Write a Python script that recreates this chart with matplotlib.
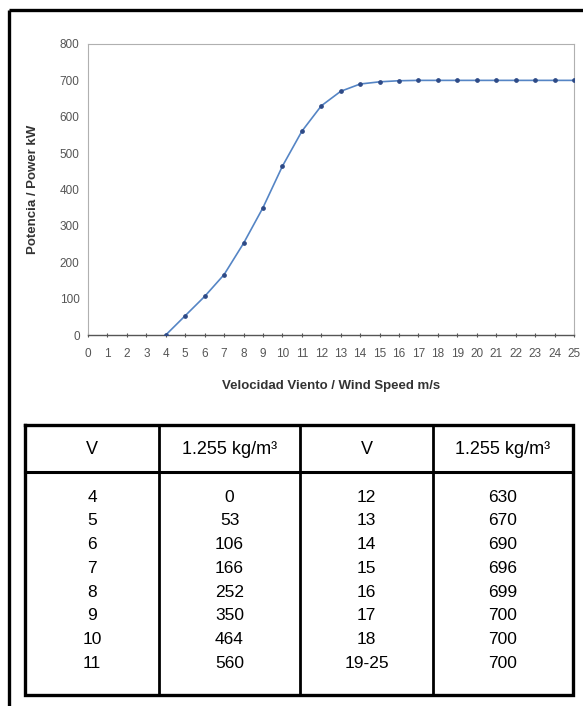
import matplotlib.pyplot as plt

plt.rcParams['font.family'] = ['Liberation Sans', 'DejaVu Sans']

# Power curve data
wind_speed = [4, 5, 6, 7, 8, 9, 10, 11, 12, 13, 14, 15, 16, 17, 18, 19, 20, 21, 22, 23, 24, 25]
power_kw = [0, 53, 106, 166, 252, 350, 464, 560, 630, 670, 690, 696, 699, 700, 700,
            700, 700, 700, 700, 700, 700, 700]

# Table contents
header = ['V', '1.255 kg/m³', 'V', '1.255 kg/m³']
col_v1 = ['4', '5', '6', '7', '8', '9', '10', '11']
col_p1 = ['0', '53', '106', '166', '252', '350', '464', '560']
col_v2 = ['12', '13', '14', '15', '16', '17', '18', '19-25']
col_p2 = ['630', '670', '690', '696', '699', '700', '700', '700']

W, H = 583, 706
fig = plt.figure(figsize=(W / 100, H / 100), dpi=100)
fig.patch.set_facecolor('white')

# chart area (pixel coords converted to figure fractions)
left, right, top, bottom = 88, 574, 44, 335
ax = fig.add_axes([left / W, 1 - bottom / H, (right - left) / W, (bottom - top) / H])
ax.plot(wind_speed, power_kw, color='#5585c5', lw=1.2, marker='o', ms=2.4,
        mfc='#2e4a86', mec='#2e4a86', zorder=3)
ax.set_xlim(0, 25)
ax.set_ylim(0, 800)
ax.set_xticks(range(0, 26))
ax.set_yticks(range(0, 801, 100))
ax.tick_params(axis='both', labelsize=8.5, colors='#555555', length=3, width=0.8)
ax.tick_params(axis='y', length=0, pad=6)
ax.tick_params(axis='x', direction='inout', pad=8)
for s in ['top', 'right', 'left']:
    ax.spines[s].set_color('#b0b0b0')
    ax.spines[s].set_linewidth(0.8)
ax.spines['bottom'].set_color('#555555')
ax.spines['bottom'].set_linewidth(1.0)
ax.set_xlabel('Velocidad Viento / Wind Speed m/s', fontsize=9.5, fontweight='bold',
              color='#333333', labelpad=14)
ax.set_ylabel('Potencia / Power kW', fontsize=9.5, fontweight='bold', color='#333333',
              labelpad=15)

# overlay axes for frame and table, in pixel units
ov = fig.add_axes([0, 0, 1, 1], zorder=-1)
ov.set_xlim(0, W)
ov.set_ylim(H, 0)
ov.axis('off')

# outer page frame (left and top edges visible)
ov.plot([9, 9], [10, H + 5], color='black', lw=2.4, solid_capstyle='butt')
ov.plot([9, W + 5], [10, 10], color='black', lw=2.4, solid_capstyle='butt')

# table
t_left, t_right, t_top, t_head, t_bot = 25, 573, 425, 472, 695
cols = [t_left, 159, 300, 433, t_right]
ov.plot([t_left, t_right, t_right, t_left, t_left], [t_top, t_top, t_bot, t_bot, t_top],
        color='black', lw=2.4, solid_joinstyle='miter')
ov.plot([t_left, t_right], [t_head, t_head], color='black', lw=2.2)
for cx in cols[1:-1]:
    ov.plot([cx, cx], [t_top, t_bot], color='black', lw=2.0)

centers = [(cols[i] + cols[i + 1]) / 2 for i in range(4)]
for cx, txt in zip(centers, header):
    ov.text(cx, 449, txt, ha='center', va='center', fontsize=13)

row0, step = 497, 23.8
for i, c in enumerate([col_v1, col_p1, col_v2, col_p2]):
    for j, txt in enumerate(c):
        ov.text(centers[i], row0 + j * step, txt, ha='center', va='center', fontsize=12.5)

fig.savefig('out.png', dpi=100)
